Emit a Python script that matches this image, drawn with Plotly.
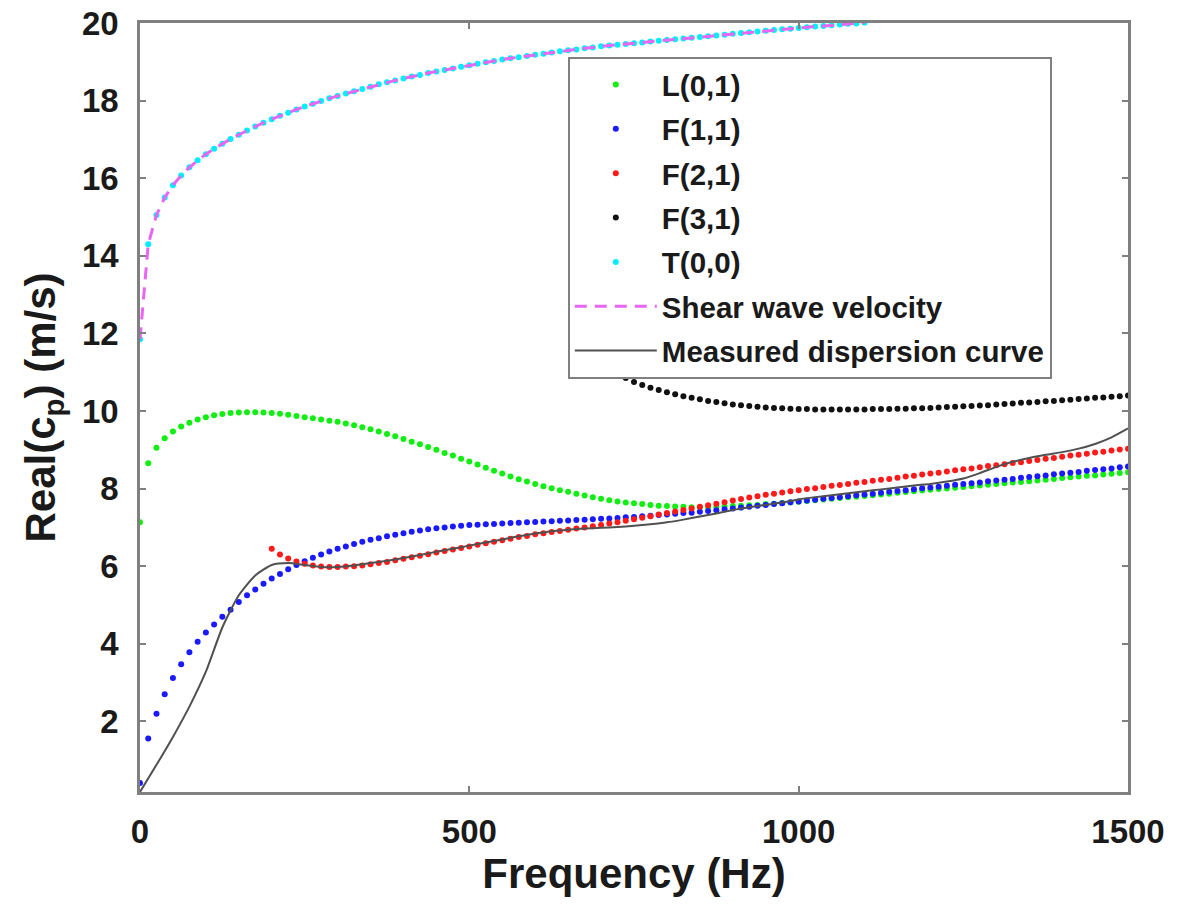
import plotly.graph_objects as go

# Frequency grid (Hz) at which the modal dispersion curves are drawn
freq = [
    0, 12.5, 25, 37.5, 50, 62.5, 75, 87.5, 100, 112.5,
    125, 137.5, 150, 162.5, 175, 187.5, 200, 212.5, 225, 237.5,
    250, 262.5, 275, 287.5, 300, 312.5, 325, 337.5, 350, 362.5,
    375, 387.5, 400, 412.5, 425, 437.5, 450, 462.5, 475, 487.5,
    500, 512.5, 525, 537.5, 550, 562.5, 575, 587.5, 600, 612.5,
    625, 637.5, 650, 662.5, 675, 687.5, 700, 712.5, 725, 737.5,
    750, 762.5, 775, 787.5, 800, 812.5, 825, 837.5, 850, 862.5,
    875, 887.5, 900, 912.5, 925, 937.5, 950, 962.5, 975, 987.5,
    1000, 1012.5, 1025, 1037.5, 1050, 1062.5, 1075, 1087.5, 1100, 1112.5,
    1125, 1137.5, 1150, 1162.5, 1175, 1187.5, 1200, 1212.5, 1225, 1237.5,
    1250, 1262.5, 1275, 1287.5, 1300, 1312.5, 1325, 1337.5, 1350, 1362.5,
    1375, 1387.5, 1400, 1412.5, 1425, 1437.5, 1450, 1462.5, 1475, 1487.5,
    1500,
]

# L(0,1) mode, full grid
L01 = [
    7.13, 8.65, 9.05, 9.30, 9.47, 9.60, 9.70, 9.78, 9.84, 9.89,
    9.92, 9.95, 9.96, 9.97, 9.97, 9.96, 9.95, 9.93, 9.90, 9.87,
    9.84, 9.81, 9.78, 9.75, 9.72, 9.68, 9.63, 9.58, 9.53, 9.47,
    9.41, 9.35, 9.28, 9.21, 9.14, 9.07, 9.00, 8.92, 8.85, 8.77,
    8.70, 8.62, 8.54, 8.46, 8.39, 8.31, 8.24, 8.18, 8.12, 8.06,
    8.01, 7.96, 7.92, 7.87, 7.82, 7.78, 7.74, 7.70, 7.67, 7.64,
    7.62, 7.60, 7.58, 7.56, 7.55, 7.54, 7.53, 7.52, 7.52, 7.52,
    7.53, 7.54, 7.55, 7.56, 7.57, 7.58, 7.60, 7.61, 7.63, 7.64,
    7.66, 7.68, 7.70, 7.72, 7.74, 7.76, 7.78, 7.79, 7.81, 7.83,
    7.85, 7.87, 7.89, 7.91, 7.93, 7.95, 7.97, 7.99, 8.00, 8.02,
    8.04, 8.06, 8.08, 8.10, 8.12, 8.14, 8.16, 8.17, 8.19, 8.21,
    8.23, 8.25, 8.27, 8.29, 8.31, 8.33, 8.34, 8.36, 8.38, 8.40,
    8.42,
]

# F(1,1) mode, full grid
F11 = [
    0.41, 1.56, 2.20, 2.70, 3.12, 3.47, 3.78, 4.05, 4.29, 4.50,
    4.70, 4.88, 5.08, 5.25, 5.40, 5.55, 5.68, 5.80, 5.92, 6.03,
    6.13, 6.22, 6.30, 6.38, 6.45, 6.51, 6.57, 6.63, 6.68, 6.72,
    6.77, 6.81, 6.85, 6.89, 6.92, 6.95, 6.98, 7.00, 7.02, 7.04,
    7.06, 7.07, 7.08, 7.09, 7.10, 7.11, 7.12, 7.13, 7.14, 7.15,
    7.16, 7.17, 7.18, 7.19, 7.20, 7.21, 7.22, 7.23, 7.24, 7.26,
    7.27, 7.29, 7.30, 7.32, 7.33, 7.35, 7.37, 7.38, 7.40, 7.42,
    7.44, 7.47, 7.49, 7.51, 7.53, 7.56, 7.58, 7.60, 7.62, 7.65,
    7.67, 7.69, 7.71, 7.74, 7.76, 7.78, 7.80, 7.83, 7.85, 7.87,
    7.89, 7.92, 7.94, 7.96, 7.98, 8.01, 8.03, 8.05, 8.07, 8.10,
    8.12, 8.14, 8.16, 8.19, 8.21, 8.23, 8.25, 8.28, 8.30, 8.32,
    8.34, 8.37, 8.39, 8.41, 8.43, 8.46, 8.48, 8.50, 8.52, 8.55,
    8.57,
]

# F(2,1) mode, from 200 Hz (grid index 16)
F21_start = 16
F21 = [
    6.45, 6.30, 6.20, 6.12,
    6.06, 6.02, 5.99, 5.98, 5.98, 5.99, 6.00, 6.02, 6.05, 6.08,
    6.11, 6.15, 6.19, 6.23, 6.27, 6.31, 6.35, 6.39, 6.43, 6.47,
    6.51, 6.55, 6.59, 6.63, 6.67, 6.71, 6.75, 6.78, 6.82, 6.85,
    6.88, 6.91, 6.94, 6.97, 7.00, 7.03, 7.06, 7.10, 7.13, 7.17,
    7.21, 7.25, 7.29, 7.33, 7.37, 7.41, 7.45, 7.49, 7.53, 7.57,
    7.61, 7.65, 7.69, 7.73, 7.77, 7.80, 7.84, 7.87, 7.90, 7.93,
    7.96, 7.99, 8.01, 8.04, 8.07, 8.09, 8.12, 8.15, 8.17, 8.20,
    8.23, 8.25, 8.28, 8.31, 8.33, 8.36, 8.39, 8.41, 8.44, 8.47,
    8.50, 8.52, 8.55, 8.58, 8.60, 8.63, 8.66, 8.68, 8.71, 8.74,
    8.77, 8.79, 8.82, 8.85, 8.87, 8.90, 8.93, 8.95, 8.98, 9.01,
    9.03,
]

# F(3,1) mode, from 687.5 Hz (grid index 55)
F31_start = 55
F31 = [
    11.75, 11.45, 11.20, 11.00, 10.85,
    10.75, 10.67, 10.60, 10.54, 10.48, 10.43, 10.38, 10.34, 10.30, 10.26,
    10.23, 10.20, 10.17, 10.15, 10.13, 10.11, 10.09, 10.08, 10.07, 10.06,
    10.05, 10.05, 10.04, 10.04, 10.04, 10.04, 10.04, 10.04, 10.04, 10.05,
    10.05, 10.05, 10.06, 10.06, 10.07, 10.07, 10.08, 10.09, 10.10, 10.11,
    10.12, 10.13, 10.14, 10.15, 10.17, 10.18, 10.19, 10.21, 10.22, 10.23,
    10.25, 10.26, 10.28, 10.29, 10.31, 10.32, 10.34, 10.35, 10.37, 10.38,
    10.40,
]

# T(0,0) mode (identical to shear wave velocity), up to 1100 Hz (grid index 0..88)
T00 = [
    11.85, 14.30, 15.05, 15.50, 15.82, 16.07, 16.28, 16.46, 16.62, 16.76,
    16.89, 17.01, 17.12, 17.23, 17.33, 17.43, 17.52, 17.61, 17.69, 17.77,
    17.85, 17.92, 17.99, 18.06, 18.12, 18.18, 18.24, 18.30, 18.36, 18.42,
    18.47, 18.52, 18.57, 18.62, 18.66, 18.71, 18.75, 18.79, 18.83, 18.87,
    18.91, 18.95, 18.99, 19.02, 19.06, 19.09, 19.12, 19.15, 19.18, 19.21,
    19.24, 19.27, 19.30, 19.32, 19.35, 19.37, 19.40, 19.42, 19.44, 19.46,
    19.48, 19.50, 19.52, 19.54, 19.56, 19.58, 19.60, 19.62, 19.64, 19.66,
    19.68, 19.70, 19.72, 19.74, 19.76, 19.78, 19.80, 19.82, 19.84, 19.85,
    19.87, 19.89, 19.91, 19.92, 19.94, 19.96, 19.98, 19.99, 20.01,
]
shear_velocity = T00

# Measured dispersion curve, on every second grid point (25 Hz spacing)
measured = [
    0.18, 0.88, 1.60, 2.38, 3.28, 4.42, 5.25, 5.76, 6.03, 6.08,
    6.03, 5.98, 5.98, 6.02, 6.08, 6.14, 6.21, 6.29, 6.37, 6.45,
    6.53, 6.61, 6.69, 6.77, 6.84, 6.90, 6.94, 6.97, 6.99, 7.01,
    7.04, 7.08, 7.13, 7.20, 7.28, 7.36, 7.45, 7.52, 7.58, 7.64,
    7.72, 7.78, 7.83, 7.88, 7.93, 7.98, 8.03, 8.08, 8.12, 8.18,
    8.26, 8.40, 8.56, 8.69, 8.79, 8.87, 8.94, 9.03, 9.15, 9.32,
    9.55,
]

x_ticks = [0, 500, 1000, 1500]
y_ticks = [2, 4, 6, 8, 10, 12, 14, 16, 18, 20]

assert len(freq) == 121 and len(L01) == 121 and len(F11) == 121
assert len(F21) == 121 - F21_start and len(F31) == 121 - F31_start
assert len(T00) == 89 and len(measured) == 61

FONT = "Liberation Sans, Arial, sans-serif"
AX = "#808080"
TXT = "#1a1a1a"

fig = go.Figure()

def dots(x, y, name, color):
    fig.add_trace(go.Scatter(
        x=x, y=y, name=name, legendgroup=name, mode="markers",
        marker=dict(size=6, color=color, line=dict(width=0)),
    ))

dots(freq, L01, "L(0,1)", "#11ee11")
dots(freq, F11, "F(1,1)", "#1a1aff")
dots(freq[F21_start:], F21, "F(2,1)", "#ff1a1a")
dots(freq[F31_start:], F31, "F(3,1)", "#111111")
dots(freq[:len(T00)], T00, "T(0,0)", "#00eeff")

fig.add_trace(go.Scatter(
    x=freq[:len(shear_velocity)], y=shear_velocity, name="Shear wave velocity",
    legendgroup="shear", mode="lines",
    line=dict(color="#e866f2", width=3, dash="12px,8px"),
))
fig.add_trace(go.Scatter(
    x=freq[::2], y=measured, name="Measured dispersion curve",
    legendgroup="measured", mode="lines",
    line=dict(color="#505050", width=2, shape="spline", smoothing=0.6),
))

axis_common = dict(
    showgrid=False, zeroline=False, showline=True, linecolor=AX, linewidth=2.5,
    mirror="ticks", ticks="inside", ticklen=6, tickwidth=2, tickcolor=AX,
    automargin=False,
    tickfont=dict(family=FONT, size=33, color=TXT, weight="bold"),
)

fig.update_xaxes(
    range=[0, 1500], tickvals=x_ticks, ticktext=[str(v) for v in x_ticks],
    ticklabelstandoff=9,
    title=dict(text="Frequency (Hz)", font=dict(family=FONT, size=42, color=TXT, weight="bold"),
               standoff=10),
    **axis_common,
)
fig.update_yaxes(
    range=[0.18, 20], tickvals=y_ticks, ticktext=[str(v) for v in y_ticks],
    ticklabelstandoff=12,
    title=dict(text="Real(c<sub>p</sub>) (m/s)", font=dict(family=FONT, size=42, color=TXT, weight="bold"),
               standoff=14),
    **axis_common,
)

fig.update_layout(
    width=1186, height=914,
    margin=dict(l=140, r=58, t=23, b=122, autoexpand=False),
    paper_bgcolor="white", plot_bgcolor="white",
    showlegend=True,
    legend=dict(
        x=0.433, y=0.956, xanchor="left", yanchor="top",
        bgcolor="white", bordercolor=AX, borderwidth=2,
        font=dict(family=FONT, size=29.5, color=TXT, weight="bold"),
        itemwidth=82, tracegroupgap=3,
    ),
)

fig.write_html("out.html")
